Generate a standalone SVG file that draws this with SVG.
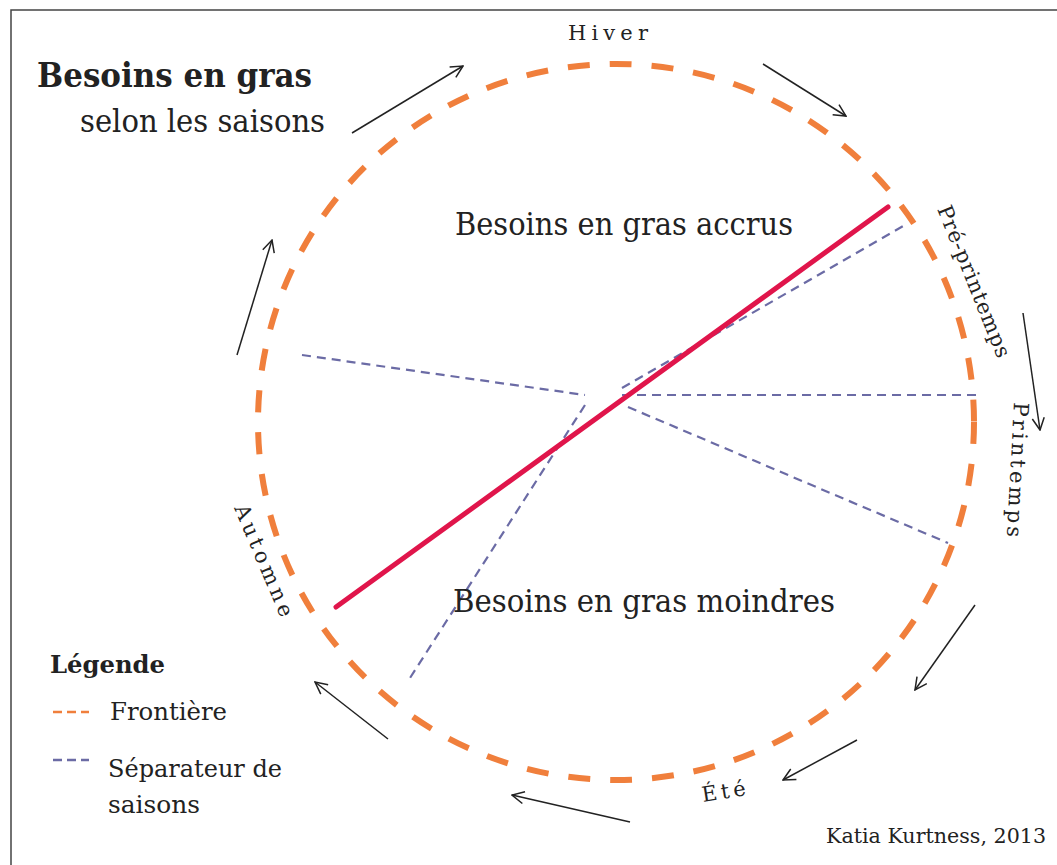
<svg xmlns="http://www.w3.org/2000/svg" width="1057" height="865" viewBox="0 0 1057 865">
<style>
text{font-family:'DejaVu Serif',serif;fill:#222}
.lbl{font-size:21px}
.border{fill:none;stroke:#444;stroke-width:1.5}
.front{fill:none;stroke:#F07F3C;stroke-width:6;stroke-dasharray:22 20}
.sep{fill:none;stroke:#6B6BA5;stroke-width:2.2;stroke-dasharray:9 6}
.arr{fill:none;stroke:#222;stroke-width:1.5;marker-end:url(#ah)}
</style>
<defs>
<marker id="ah" viewBox="0 0 14 14" refX="13" refY="7" markerWidth="14" markerHeight="14" markerUnits="userSpaceOnUse" orient="auto">
<path d="M1,1 L13,7 L1,13" fill="none" stroke="#222" stroke-width="1.5"/>
</marker>
</defs>
<rect width="1057" height="865" fill="#fff"/>
<rect class="border" x="11" y="10" width="1070" height="880"/>

<g id="frontiere">
<circle class="front" cx="616" cy="422" r="358"/>
</g>

<g id="separateurs">
<line class="sep" x1="302" y1="355" x2="585" y2="395"/>
<line class="sep" x1="585" y1="405" x2="410" y2="678"/>
<line class="sep" x1="622" y1="388" x2="905" y2="225"/>
<line class="sep" x1="622" y1="395" x2="978" y2="395"/>
<line class="sep" x1="628" y1="407" x2="948" y2="543"/>
</g>

<g id="axe">
<line x1="336" y1="607" x2="888" y2="207" stroke="#E0154B" stroke-width="5" stroke-linecap="round"/>
</g>

<g id="connectors">
<line class="arr" x1="352" y1="133" x2="463" y2="66"/>
<line class="arr" x1="763" y1="64" x2="846" y2="116"/>
<line class="arr" x1="1023" y1="313" x2="1040" y2="430"/>
<line class="arr" x1="975" y1="605" x2="915" y2="690"/>
<line class="arr" x1="857" y1="740" x2="783" y2="780"/>
<line class="arr" x1="630" y1="822" x2="512" y2="795"/>
<line class="arr" x1="388" y1="739" x2="315" y2="682"/>
<line class="arr" x1="237" y1="355" x2="272" y2="240"/>
</g>

<g id="titre">
<text x="37" y="87" font-size="34" font-weight="bold" textLength="275" lengthAdjust="spacingAndGlyphs">Besoins en gras</text>
<text x="80" y="132" font-size="32" textLength="245" lengthAdjust="spacingAndGlyphs">selon les saisons</text>
</g>

<g id="hiver"><text class="lbl" x="568" y="40" textLength="80" lengthAdjust="spacing">Hiver</text></g>
<g id="pre-printemps"><text class="lbl" transform="translate(937,209) rotate(68)" textLength="162" lengthAdjust="spacing">Pré-printemps</text></g>
<g id="printemps"><text class="lbl" transform="translate(1014,402) rotate(93)" textLength="135" lengthAdjust="spacing">Printemps</text></g>
<g id="ete"><text class="lbl" transform="translate(703,802) rotate(-9)" textLength="44" lengthAdjust="spacing">Été</text></g>
<g id="automne"><text class="lbl" transform="translate(234,508) rotate(67)" textLength="120" lengthAdjust="spacing">Automne</text></g>

<g id="zone-accrus"><text x="455" y="235" font-size="31" textLength="338" lengthAdjust="spacingAndGlyphs">Besoins en gras accrus</text></g>
<g id="zone-moindres"><text x="453" y="612" font-size="31" textLength="382" lengthAdjust="spacingAndGlyphs">Besoins en gras moindres</text></g>

<g id="legende">
<text x="50" y="673" font-size="25" font-weight="bold" textLength="115" lengthAdjust="spacingAndGlyphs">Légende</text>
<line x1="53" y1="712" x2="89" y2="712" stroke="#F07F3C" stroke-width="2.5" stroke-dasharray="9 5"/>
<text x="110" y="720" font-size="25" textLength="117" lengthAdjust="spacingAndGlyphs">Frontière</text>
<line x1="53" y1="760" x2="89" y2="760" stroke="#6B6BA5" stroke-width="2.5" stroke-dasharray="9 5"/>
<text x="108" y="777" font-size="25" textLength="174" lengthAdjust="spacingAndGlyphs">Séparateur de</text>
<text x="108" y="813" font-size="25" textLength="92" lengthAdjust="spacingAndGlyphs">saisons</text>
</g>

<g id="credit"><text x="826" y="843" font-size="21" textLength="220" lengthAdjust="spacingAndGlyphs">Katia Kurtness, 2013</text></g>
</svg>
